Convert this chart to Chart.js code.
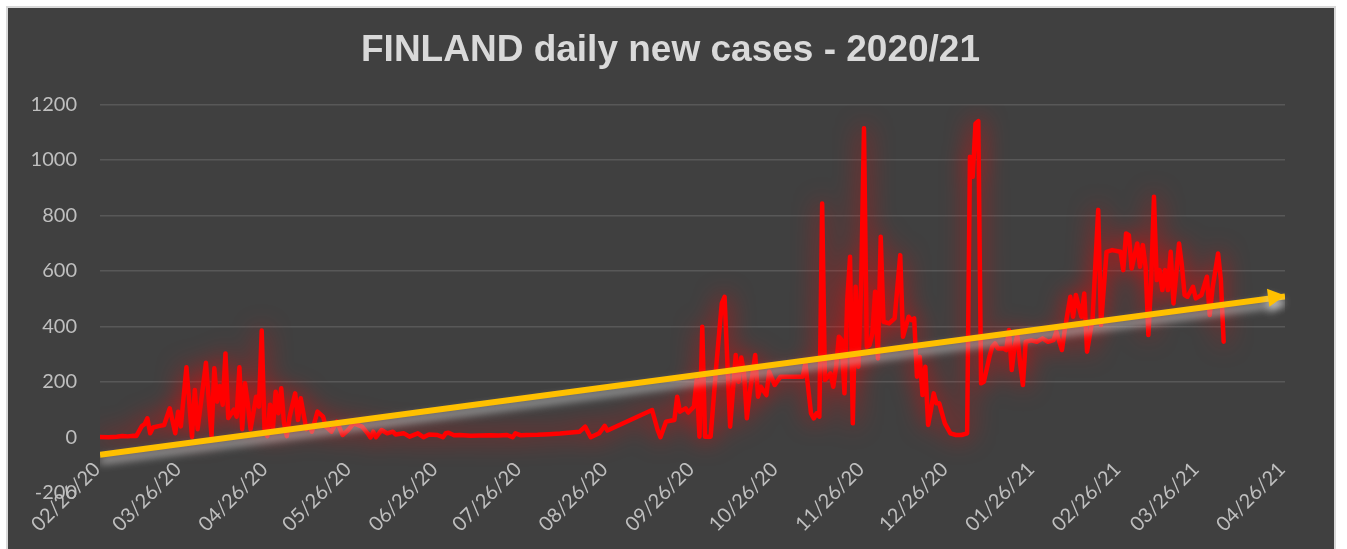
<!DOCTYPE html>
<html><head><meta charset="utf-8">
<script src="https://cdn.jsdelivr.net/npm/chart.js@4.4.1/dist/chart.umd.min.js"></script>
<style>
html,body{margin:0;padding:0;background:#ffffff;width:1347px;height:549px;overflow:hidden;}
#frame{position:absolute;left:6px;top:6px;width:1330px;height:560px;box-sizing:border-box;border:2px solid #d9d9d9;background:#404040;}
#c{position:absolute;left:0;top:0;}
</style></head><body>
<div id="frame"></div>
<canvas id="c" width="1347" height="549"></canvas>
<script>
// Day offsets counted from 02/26/20
const tickLabels = ['02/26/20','03/26/20','04/26/20','05/26/20','06/26/20','07/26/20','08/26/20','09/26/20','10/26/20','11/26/20','12/26/20','01/26/21','02/26/21','03/26/21','04/26/21'];
const tickDays = [0,29,60,90,121,151,182,213,243,274,304,335,366,394,425];

const caseDays = [0,3,6,8,10,12,13,15,16,17,18,19,21,23,25,27,28,29,31,33,34,35,38,40,41,42,43,44,45,46,48,49,50,51,52,53,54,56,57,58,59,60,61,62,63,64,65,66,67,68,70,71,72,74,75,76,78,80,81,83,85,87,89,91,94,96,97,98,99,101,103,105,106,109,111,114,116,118,121,123,124,125,127,129,133,136,140,143,146,148,149,151,153,157,161,165,169,172,174,176,179,181,182,198,200,201,203,206,207,208,210,211,213,214,215,216,217,219,221,223,224,226,228,229,230,231,232,233,235,236,237,239,240,242,244,252,253,255,256,257,258,259,260,262,263,264,265,266,267,268,269,270,271,272,273,274,275,276,277,278,279,280,281,283,285,286,287,288,290,291,292,293,294,295,296,297,298,299,300,301,302,303,305,307,309,311,312,313,314,315,316,317,319,320,321,322,324,325,326,327,328,329,330,331,332,334,336,338,340,342,343,345,346,347,348,349,350,352,353,354,356,358,359,361,363,366,367,368,369,370,372,373,374,375,376,377,378,379,380,381,382,383,384,385,387,388,389,390,392,393,395,397,398,399,401,402,403];
const caseValues = [2,1,3,5,4,6,5,41,48,69,15,36,41,45,105,15,93,40,253,2,171,30,269,5,249,129,185,118,303,70,100,75,253,30,195,123,30,147,111,385,30,5,118,30,165,87,177,51,5,75,159,63,141,30,42,21,93,75,39,21,57,9,27,51,39,15,0,21,1,27,15,21,11,15,3,15,1,11,9,1,15,17,8,9,6,7,8,7,9,1,15,8,9,10,12,14,18,21,39,1,15,42,25,99,27,1,57,63,147,93,105,90,111,207,3,399,3,3,255,483,507,39,297,201,288,231,69,159,297,147,183,153,237,189,219,219,267,87,69,87,75,843,207,231,183,255,363,351,159,495,651,51,543,255,555,1114,327,333,375,525,285,723,417,411,429,543,657,363,435,423,429,219,291,153,255,45,99,159,123,123,87,51,15,9,9,15,1011,939,1131,1140,195,201,291,327,339,321,321,315,387,243,327,369,267,189,345,350,345,357,345,351,381,315,387,447,507,435,513,435,519,309,429,820,405,669,675,669,603,735,729,609,699,615,693,615,369,561,867,567,603,531,603,531,669,483,699,621,513,507,543,501,513,579,441,537,663,567,345];

const trendDays = [0, 425];
const trendValues = [-62, 508];

const yMin = -200, yMax = 1200, yStep = 200;

const effects = {
  id: 'effects',
  beforeDatasetDraw(chart, args) {
    const ctx = chart.ctx;
    ctx.save();
    if (args.index === 0) {
      ctx.shadowColor = 'rgba(255,0,0,0.75)';
      ctx.shadowBlur = 24;
    } else {
      ctx.shadowColor = 'rgba(205,205,205,0.8)';
      ctx.shadowBlur = 9;
      ctx.shadowOffsetY = 6;
    }
  },
  afterDatasetDraw(chart, args) {
    const ctx = chart.ctx;
    if (args.index === 1) {
      const pts = args.meta.data;
      const p1 = pts[pts.length - 1], p0 = pts[pts.length - 2];
      const a = Math.atan2(p1.y - p0.y, p1.x - p0.x);
      const L = 17, W = 9;
      const tx = p1.x, ty = p1.y - 1;
      ctx.beginPath();
      ctx.moveTo(tx, ty);
      ctx.lineTo(tx - L * Math.cos(a) + W * Math.sin(a), ty - L * Math.sin(a) - W * Math.cos(a));
      ctx.lineTo(tx - L * Math.cos(a) - W * Math.sin(a), ty - L * Math.sin(a) + W * Math.cos(a));
      ctx.closePath();
      ctx.fillStyle = '#ffc000';
      ctx.fill();
    }
    ctx.restore();
  }
};

new Chart(document.getElementById('c'), {
  type: 'line',
  data: {
    datasets: [
      {
        data: caseDays.map((d, i) => ({x: d, y: caseValues[i]})),
        borderColor: '#ff0000', borderWidth: 4.5, pointRadius: 0, tension: 0, order: 1,
        borderJoinStyle: 'round', borderCapStyle: 'round'
      },
      {
        data: trendDays.map((d, i) => ({x: d, y: trendValues[i]})),
        borderColor: '#ffc000', borderWidth: 6, pointRadius: 0, tension: 0, order: 0
      }
    ]
  },
  options: {
    responsive: false, animation: false, events: [],
    layout: {padding: {left: 0, right: 6, top: 0, bottom: 56}},
    plugins: {
      legend: {display: false},
      tooltip: {enabled: false},
      title: {
        display: true, text: 'FINLAND daily new cases - 2020/21', color: '#d9d9d9',
        font: {family: '"Liberation Sans", Arial, sans-serif', size: 37, weight: 'bold', lineHeight: 1.2},
        padding: {top: 29, bottom: 31}
      }
    },
    scales: {
      x: {
        type: 'linear', position: {y: 0}, min: tickDays[0], max: tickDays[tickDays.length - 1],
        grid: {display: false, drawTicks: false}, border: {display: false},
        afterBuildTicks: s => { s.ticks = tickDays.map(v => ({value: v})); },
        ticks: {
          autoSkip: false, minRotation: 45, maxRotation: 45, padding: 20, labelOffset: -3,
          color: '#bfbfbf', font: {family: 'Lato', size: 20},
          callback: (v, i) => tickLabels[i]
        }
      },
      y: {
        min: yMin, max: yMax,
        afterFit: s => { s.width = 100; },
        grid: {color: c => (c.tick && c.tick.value > 0) ? '#585858' : 'rgba(0,0,0,0)', lineWidth: 1.5, drawTicks: false},
        border: {display: false},
        ticks: {stepSize: yStep, padding: 23, color: '#bfbfbf', font: {family: 'Lato', size: 20}, callback: v => String(v)}
      },
      yRight: {
        position: 'right', min: yMin, max: yMax,
        afterFit: s => { s.width = 56; },
        grid: {display: false, drawTicks: false}, border: {display: false},
        ticks: {display: false}
      }
    }
  },
  plugins: [effects]
});
</script>
</body></html>
